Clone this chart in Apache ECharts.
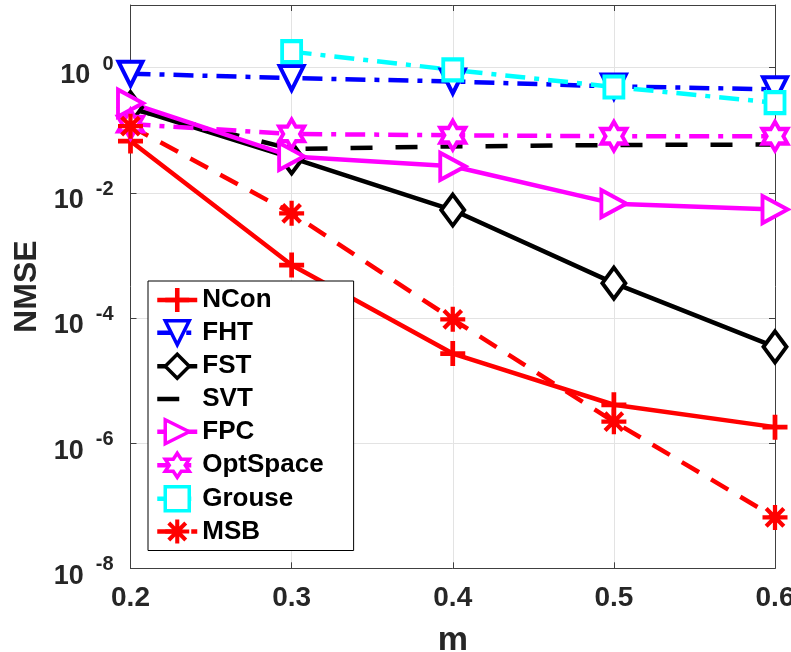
<!DOCTYPE html>
<html>
<head>
<meta charset="utf-8">
<script src="https://cdn.jsdelivr.net/npm/echarts@6/dist/echarts.min.js"></script>
<style>
html,body{margin:0;padding:0;background:#fff;}
#chart{width:791px;height:652px;}
</style>
</head>
<body>
<div id="chart"></div>
<script>
// ---- data ----
const xValues = [0.2, 0.3, 0.4, 0.5, 0.6];
const xTickLabels = ['0.2', '0.3', '0.4', '0.5', '0.6'];
const yTickExps = [-8, -6, -4, -2, 0];
const seriesNames = ['NCon', 'FHT', 'FST', 'SVT', 'FPC', 'OptSpace', 'Grouse', 'MSB'];
const NCon     = [0.067, 7.0e-4, 2.7e-5, 4.1e-6, 1.8e-6];
const FHT      = [0.80, 0.68, 0.60, 0.50, 0.45];
const FST      = [0.23, 0.036, 0.0053, 3.6e-4, 3.45e-5];
const SVT      = [0.22, 0.050, 0.055, 0.058, 0.059];
const FPC      = [0.27, 0.038, 0.0265, 0.0067, 0.0054];
const OptSpace = [0.125, 0.087, 0.083, 0.080, 0.080];
const Grouse   = [null, 1.8, 0.92, 0.49, 0.275];
const MSB      = [0.116, 0.0047, 9.5e-5, 2.2e-6, 6.5e-8];

// ---- symbol shapes (style only) ----
function barsPath(angles, half, t) {
  let d = '';
  angles.forEach(a => {
    const r = a * Math.PI / 180, c = Math.cos(r), s = Math.sin(r);
    const pts = [[-half, -t], [half, -t], [half, t], [-half, t]].map(p => [p[0]*c - p[1]*s, p[0]*s + p[1]*c]);
    d += 'M' + pts.map(p => p[0].toFixed(3) + ',' + p[1].toFixed(3)).join('L') + 'Z';
  });
  return 'path://' + d;
}
const plusPath = barsPath([0, 90], 1, 0.19);
const asteriskPath = barsPath([0, 45, 90, 135], 1, 0.17);
function hexagramPath() {
  const pts = [];
  for (let i = 0; i < 12; i++) {
    const ang = (-90 + i * 30) * Math.PI / 180;
    const r = i % 2 === 0 ? 1 : 1 / Math.sqrt(3);
    pts.push([r * Math.cos(ang), r * Math.sin(ang)]);
  }
  return 'path://M' + pts.map(p => p[0].toFixed(3) + ',' + p[1].toFixed(3)).join('L') + 'Z';
}
const hexPath = hexagramPath();

const FONT = 'Liberation Sans, Arial, Helvetica, sans-serif';

function pairs(arr) { return xValues.map((x, i) => [x, arr[i]]).filter(p => p[1] != null); }

function mk(name, arr, color, lineType, lw, symbol, size, hollow, rotate) {
  return {
    name: name, type: 'line', data: pairs(arr),
    xAxisIndex: 0, yAxisIndex: 0,
    symbol: symbol, symbolSize: size, symbolRotate: rotate || 0,
    showSymbol: symbol !== 'none',
    lineStyle: { color: color, width: lw, type: lineType, cap: 'butt' },
    itemStyle: hollow ? { color: '#fff', borderColor: color, borderWidth: 4 } : { color: color, borderWidth: 0 },
    emphasis: { disabled: true },
    animation: false
  };
}

const dashDot = [20, 9, 5, 9];
const series = [
  mk('NCon', NCon, '#ff0000', 'solid', 4.5, plusPath, 25, false),
  mk('FHT', FHT, '#0000ff', dashDot, 4.5, 'triangle', [24, 24], true, 180),
  mk('FST', FST, '#000000', 'solid', 4.5, 'diamond', [23, 31], true),
  mk('SVT', SVT, '#000000', [22, 23], 4.5, 'none', 0, false),
  mk('FPC', FPC, '#ff00ff', 'solid', 4.5, 'triangle', [27, 25], true, -90),
  mk('OptSpace', OptSpace, '#ff00ff', dashDot, 4.5, hexPath, [25, 29], true),
  mk('Grouse', Grouse, '#00ffff', dashDot, 4.5, 'rect', [19, 21], true),
  mk('MSB', MSB, '#ff0000', [20, 14], 4.5, asteriskPath, 25, false)
];

const legendData = seriesNames.map(n => n === 'SVT'
  ? { name: n, itemStyle: { color: 'rgba(0,0,0,0)', borderColor: 'rgba(0,0,0,0)', borderWidth: 0 } }
  : { name: n });

const chart = echarts.init(document.getElementById('chart'), null, { renderer: 'canvas' });
chart.setOption({
  animation: false,
  backgroundColor: '#fff',
  grid: { left: 130.5, top: 5, width: 644.5, height: 563.3, containLabel: false, outerBoundsMode: 'none' },
  legend: {
    data: legendData,
    orient: 'vertical',
    left: 148, top: 281,
    padding: [6, 30, 6, 7],
    itemWidth: 40, itemHeight: 30, itemGap: 6,
    backgroundColor: '#fff', borderColor: '#000', borderWidth: 1,
    lineStyle: { width: 4.5 },
    itemStyle: { borderWidth: 3.5 },
    textStyle: { fontSize: 26, fontWeight: 'bold', color: '#000', fontFamily: FONT },
    selectedMode: false
  },
  xAxis: [{
    type: 'value', min: 0.2, max: 0.6, interval: 0.1,
    name: 'm', nameLocation: 'middle', nameGap: 55,
    nameTextStyle: { fontSize: 34, fontWeight: 'bold', color: '#262626', fontFamily: FONT },
    axisLine: { show: true, onZero: false, lineStyle: { color: '#404040', width: 1 } },
    axisTick: { show: true, inside: true, length: 6, lineStyle: { color: '#404040' } },
    axisLabel: { margin: 16, fontSize: 28, fontWeight: 'bold', color: '#262626', fontFamily: FONT,
      formatter: v => { const i = xValues.findIndex(x => Math.abs(x - v) < 1e-9); return i >= 0 ? xTickLabels[i] : ''; } },
    splitLine: { show: true, lineStyle: { color: '#e3e3e3', width: 1 } }
  }, {
    type: 'value', min: 0.2, max: 0.6, interval: 0.1, position: 'top',
    axisLine: { show: true, onZero: false, lineStyle: { color: '#404040', width: 1 } },
    axisTick: { show: true, inside: true, length: 6, lineStyle: { color: '#404040' } },
    axisLabel: { show: false }, splitLine: { show: false }
  }],
  yAxis: [{
    type: 'log', logBase: 10, min: 1e-8, max: 10, interval: 2,
    name: 'NMSE', nameLocation: 'middle', nameGap: 82, nameRotate: 90,
    nameTextStyle: { fontSize: 32, fontWeight: 'bold', color: '#262626', fontFamily: FONT },
    axisLine: { show: true, lineStyle: { color: '#404040', width: 1 } },
    axisTick: { show: true, inside: true, length: 6, lineStyle: { color: '#404040' } },
    axisLabel: {
      margin: 17,
      padding: [7, 0, 0, 0],
      formatter: v => { const e = Math.round(Math.log10(v)); return yTickExps.includes(e) ? '{b|10}{s|' + e + '}' : ''; },
      rich: {
        b: { fontSize: 27, fontWeight: 'bold', color: '#262626', fontFamily: FONT, padding: [9, 0, 0, 0] },
        s: { fontSize: 20, fontWeight: 'bold', color: '#262626', fontFamily: FONT, padding: [0, 0, 14, 12] }
      }
    },
    splitLine: { show: true, lineStyle: { color: '#e3e3e3', width: 1 } }
  }, {
    type: 'log', logBase: 10, min: 1e-8, max: 10, interval: 2, position: 'right',
    axisLine: { show: true, lineStyle: { color: '#404040', width: 1 } },
    axisTick: { show: true, inside: true, length: 6, lineStyle: { color: '#404040' } },
    axisLabel: { show: false }, splitLine: { show: false }
  }],
  series: series
});
</script>
</body>
</html>
